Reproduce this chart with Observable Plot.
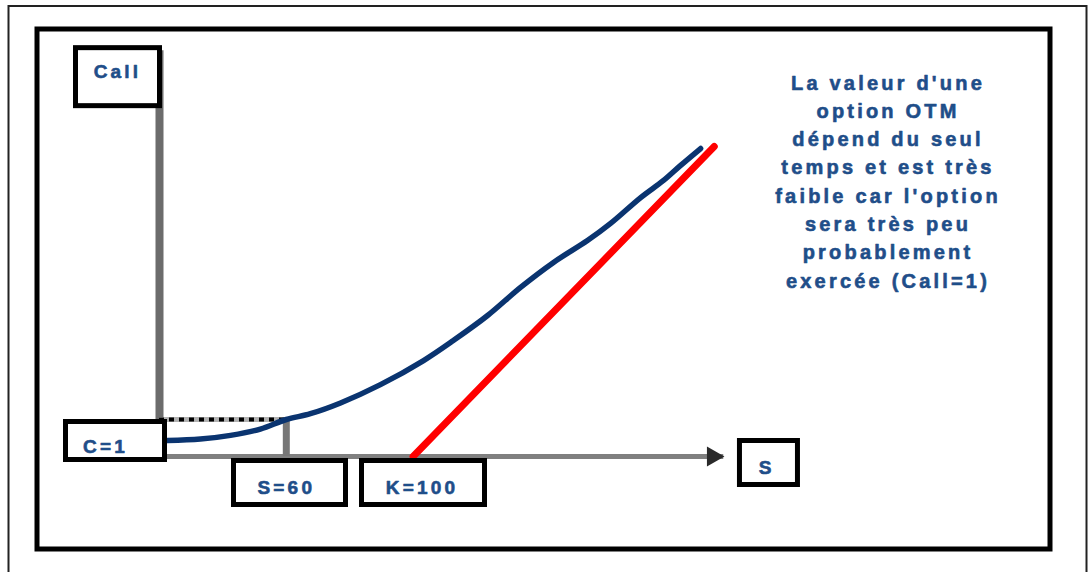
<!DOCTYPE html>
<html>
<head>
<meta charset="utf-8">
<script src="https://cdn.jsdelivr.net/npm/d3@7"></script>
<script src="https://cdn.jsdelivr.net/npm/@observablehq/plot@0.6"></script>
<style>
  html, body { margin: 0; padding: 0; background: #fff; overflow: hidden; }
  #chart { width: 1089px; height: 572px; }
  #chart svg text { letter-spacing: 3.2px; }
  #chart g[aria-label="axis-label"] text { letter-spacing: 4.5px; }
</style>
</head>
<body>
<div id="chart"></div>
<script>
// Call value of an out-of-the-money option as a function of the underlying S
const spot = [22.5, 32.9, 42.4, 51.8, 60, 67.6, 77.1, 89.7, 103.3, 112.7, 123.5, 133.9, 144.3, 155.0, 162.3, 171.8, 179.0, 184.4, 190.7];
const callValue = [0.43, 0.47, 0.57, 0.74, 1, 3.0, 6.7, 13.0, 21.3, 28.2, 36.8, 46.5, 55.1, 62.6, 68.5, 77.4, 83.3, 88.5, 94.3];

// Intrinsic value max(S - K, 0) above the strike
const payoffSpot = [100, 195];
const payoffValue = [0, 95];

// Key levels
const strike = 100;
const spotToday = 60;
const callToday = 1;

// Axis extents (S from 20 to the arrow tip, Call from 0 to the top of the axis)
const sAxis = [20, 198];
const callAxis = [0, 128];

const noteLines = [
  "La valeur d'une",
  "option OTM",
  "dépend du seul",
  "temps et est très",
  "faible car l'option",
  "sera très peu",
  "probablement",
  "exercée (Call=1)"
];

const curve = spot.map((s, i) => ({s, c: callValue[i]}));
const payoff = payoffSpot.map((s, i) => ({s, c: payoffValue[i]}));

const blue = "#0a3470";
const textBlue = "#1f4e89";
const font = "'Liberation Sans', Arial, sans-serif";

// Boxed labels: anchor in data space, text offset and box geometry in pixels
const labels = [
  {text: "Call", s: sAxis[0], c: callAxis[1], dx: -42, dy: 21, bx: -41.5, by: 26.5, w: 84, h: 58},
  {text: `C=${callToday}`, s: sAxis[0], c: callToday, dx: -54, dy: 27, bx: -44, by: 21.5, w: 99, h: 38},
  {text: `S=${spotToday}`, s: spotToday, c: 0, dx: 0, dy: 31, bx: 3.7, by: 26.5, w: 112, h: 44},
  {text: `K=${strike}`, s: strike, c: 0, dx: 9, dy: 31, bx: 10.4, by: 26.5, w: 123, h: 44},
  {text: "S", s: sAxis[1], c: 0, dx: 43, dy: 11, bx: 45.2, by: 6.5, w: 58, h: 44}
];

function labelBoxes(index, scales) {
  const g = d3.create("svg:g").attr("aria-label", "label-boxes");
  for (const l of labels) {
    const cx = scales.x(l.s) + l.bx;
    const cy = scales.y(l.c) + l.by;
    g.append("rect")
      .attr("x", cx - l.w / 2)
      .attr("y", cy - l.h / 2)
      .attr("width", l.w)
      .attr("height", l.h)
      .attr("fill", "#fff")
      .attr("stroke", "#000")
      .attr("stroke-width", 5);
  }
  return g.node();
}

const labelMarks = labels.map((l) => Plot.text([l], {
  x: "s", y: "c", text: "text", dx: l.dx, dy: l.dy,
  fontSize: 19, fontWeight: "bold", fontFamily: font, fill: textBlue,
  stroke: textBlue, strokeWidth: 0.6, paintOrder: "normal",
  textAnchor: "middle", lineAnchor: "middle", ariaLabel: "axis-label"
}));

const chart = Plot.plot({
  width: 1089,
  height: 572,
  marginLeft: 36.5,
  marginTop: 28.5,
  marginRight: 39.5,
  marginBottom: 23.5,
  style: {background: "#fff", fontFamily: font},
  x: {type: "linear", domain: [20, 200], range: [159, 159 + 180 * 3.17], axis: null},
  y: {type: "linear", domain: [0, callToday, 95], range: [456, 419, 146], axis: null},
  marks: [
    // outer thin border and inner thick frame
    Plot.frame({stroke: "#222", strokeWidth: 2, insetLeft: -28.5, insetTop: -23, insetRight: -36.5, insetBottom: -40}),
    Plot.frame({stroke: "#000", strokeWidth: 5}),

    // axes
    Plot.ruleX([sAxis[0]], {y1: callAxis[0], y2: callAxis[1], stroke: "#6c6c6c", strokeWidth: 8}),
    Plot.ruleY([0], {x1: sAxis[0], x2: sAxis[1], stroke: "#808080", strokeWidth: 5}),
    Plot.dot([sAxis[1]], {x: (d) => d, y: 0, symbol: "triangle", rotate: 90, r: 7.5, fill: "#2a2a2a", dx: -11}),

    // current spot and its call value
    Plot.ruleX([spotToday], {y1: 0, y2: callToday, stroke: "#777", strokeWidth: 7}),
    Plot.ruleY([callToday], {x1: sAxis[0], x2: spotToday, stroke: "#b0b0b0", strokeWidth: 5}),
    Plot.ruleY([callToday], {x1: sAxis[0], x2: spotToday, stroke: "#000", strokeWidth: 4, strokeDasharray: "5,5"}),

    // option value and intrinsic value
    Plot.line(curve, {x: "s", y: "c", stroke: blue, strokeWidth: 5.5, curve: "catmull-rom"}),
    Plot.line(payoff, {x: "s", y: "c", stroke: "#ff0000", strokeWidth: 7}),

    // boxed labels
    labelBoxes,
    ...labelMarks,

    // explanatory note
    Plot.text([noteLines.join("\n")], {
      text: (d) => d, frameAnchor: "top-right", dx: -162, dy: 150.5,
      textAnchor: "middle", lineAnchor: "middle", lineHeight: 1.415,
      fontSize: 20, fontWeight: "bold", fontFamily: font, fill: textBlue,
      stroke: textBlue, strokeWidth: 0.6, paintOrder: "normal", ariaLabel: "note"
    })
  ]
});

document.getElementById("chart").appendChild(chart);
</script>
</body>
</html>
